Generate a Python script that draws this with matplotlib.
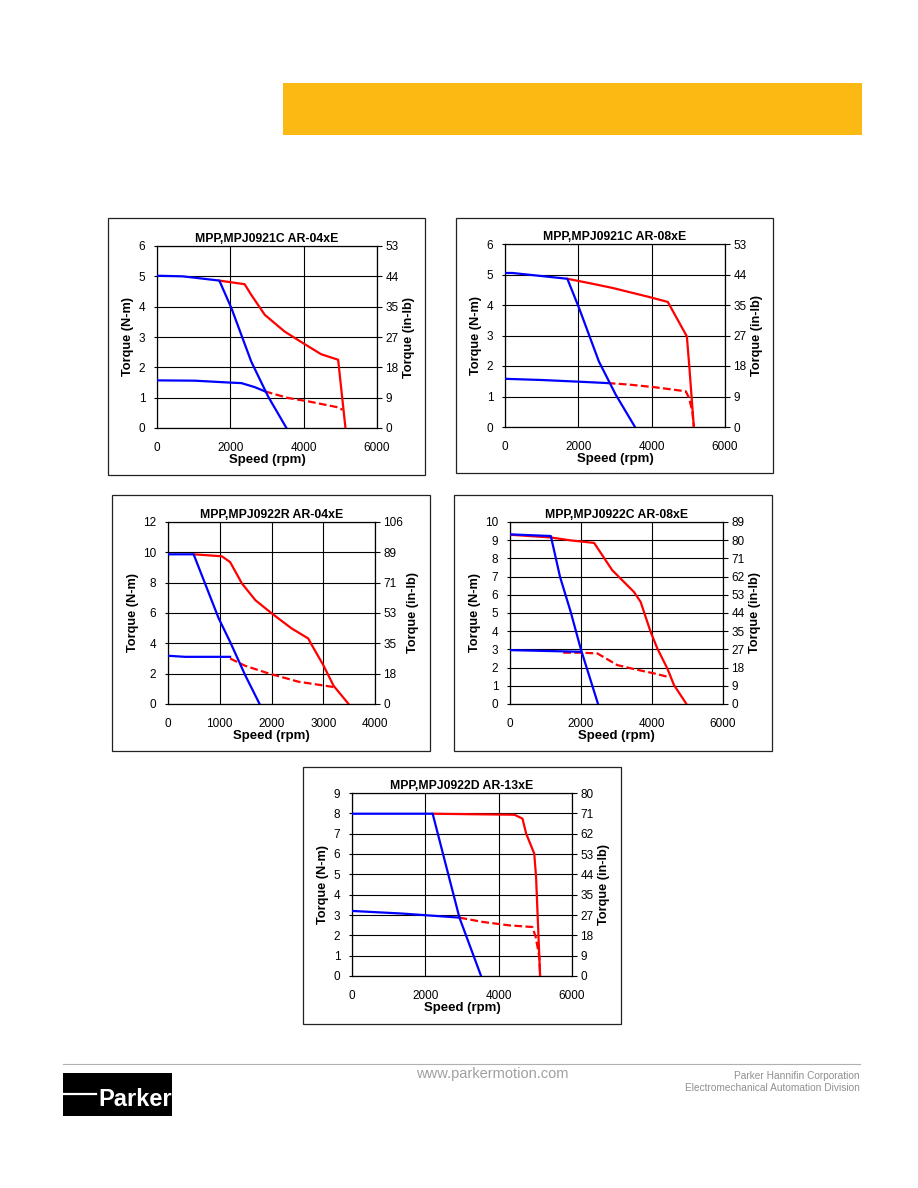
import matplotlib
matplotlib.use("Agg")
import matplotlib.pyplot as plt
from matplotlib.patches import Rectangle

plt.rcParams['font.family'] = ['Liberation Sans', 'DejaVu Sans']

W, H = 918, 1188

# ---- chart 1: MPP,MPJ0921C AR-04xE
c1_title = "MPP,MPJ0921C AR-04xE"
c1_peak_blue_x = [0, 700, 1700, 2030, 2570, 3030, 3530]
c1_peak_blue_y = [5.02, 5.0, 4.86, 3.95, 2.19, 1.04, 0]
c1_peak_red_x = [1700, 2390, 2570, 2940, 3480, 3940, 4480, 4940, 5140]
c1_peak_red_y = [4.86, 4.74, 4.39, 3.73, 3.18, 2.83, 2.43, 2.25, 0]
c1_cont_blue_x = [0, 1030, 1940, 2300, 2660, 2940]
c1_cont_blue_y = [1.57, 1.56, 1.50, 1.48, 1.35, 1.21]
c1_cont_red_x = [2940, 3570, 4120, 4940, 5060]
c1_cont_red_y = [1.21, 0.99, 0.88, 0.68, 0.60]
c1_left_ticks = [0, 1, 2, 3, 4, 5, 6]
c1_right_labels = ["0", "9", "18", "27", "35", "44", "53"]
c1_x_ticks = [0, 2000, 4000, 6000]

# ---- chart 2: MPP,MPJ0921C AR-08xE
c2_title = "MPP,MPJ0921C AR-08xE"
c2_peak_blue_x = [0, 200, 1700, 2020, 2560, 3020, 3545]
c2_peak_blue_y = [5.05, 5.05, 4.86, 3.90, 2.15, 1.06, 0]
c2_peak_red_x = [1700, 2290, 2930, 3940, 4440, 4960, 5030, 5150]
c2_peak_red_y = [4.86, 4.72, 4.56, 4.26, 4.10, 2.97, 1.93, 0]
c2_cont_blue_x = [0, 1020, 2110, 2800]
c2_cont_blue_y = [1.58, 1.54, 1.48, 1.44]
c2_cont_red_x = [2800, 3390, 4110, 4930, 5020, 5110, 5150]
c2_cont_red_y = [1.44, 1.39, 1.30, 1.17, 0.95, 0.51, 0]
c2_left_ticks = [0, 1, 2, 3, 4, 5, 6]
c2_right_labels = ["0", "9", "18", "27", "35", "44", "53"]
c2_x_ticks = [0, 2000, 4000, 6000]

# ---- chart 3: MPP,MPJ0922R AR-04xE
c3_title = "MPP,MPJ0922R AR-04xE"
c3_peak_blue_x = [0, 495, 980, 1200, 1490, 1770]
c3_peak_blue_y = [9.87, 9.87, 5.64, 4.10, 1.91, 0]
c3_peak_red_x = [495, 1040, 1200, 1430, 1690, 2010, 2390, 2710, 2780, 3000, 3200, 3490]
c3_peak_red_y = [9.87, 9.74, 9.36, 7.94, 6.84, 5.96, 4.98, 4.32, 3.88, 2.57, 1.20, 0]
c3_cont_blue_x = [0, 330, 1200]
c3_cont_blue_y = [3.18, 3.11, 3.11]
c3_cont_red_x = [1200, 1490, 1940, 2520, 3160, 3260]
c3_cont_red_y = [3.00, 2.52, 2.02, 1.47, 1.14, 1.07]
c3_left_ticks = [0, 2, 4, 6, 8, 10, 12]
c3_right_labels = ["0", "18", "35", "53", "71", "89", "106"]
c3_x_ticks = [0, 1000, 2000, 3000, 4000]

# ---- chart 4: MPP,MPJ0922C AR-08xE
c4_title = "MPP,MPJ0922C AR-08xE"
c4_peak_blue_x = [0, 1150, 1410, 1710, 1990, 2480]
c4_peak_blue_y = [9.32, 9.23, 6.98, 5.06, 3.05, 0]
c4_peak_red_x = [0, 1150, 1710, 2370, 2880, 3490, 3680, 3960, 4150, 4430, 4620, 4970]
c4_peak_red_y = [9.30, 9.15, 8.99, 8.85, 7.35, 6.16, 5.61, 3.97, 3.05, 1.96, 1.04, 0]
c4_cont_blue_x = [0, 1990]
c4_cont_blue_y = [2.96, 2.87]
c4_cont_red_x = [1500, 1990, 2460, 3020, 3490, 4060, 4430, 4530]
c4_cont_red_y = [2.82, 2.82, 2.78, 2.14, 1.92, 1.68, 1.50, 1.60]
c4_left_ticks = [0, 1, 2, 3, 4, 5, 6, 7, 8, 9, 10]
c4_right_labels = ["0", "9", "18", "27", "35", "44", "53", "62", "71", "80", "89"]
c4_x_ticks = [0, 2000, 4000, 6000]

# ---- chart 5: MPP,MPJ0922D AR-13xE
c5_title = "MPP,MPJ0922D AR-13xE"
c5_peak_blue_x = [0, 2200, 2930, 3520]
c5_peak_blue_y = [7.98, 7.98, 2.87, 0]
c5_peak_red_x = [2200, 4430, 4650, 4750, 4970, 5020, 5130]
c5_peak_red_y = [7.98, 7.93, 7.74, 7.00, 6.02, 4.87, 0]
c5_cont_blue_x = [0, 1380, 2470, 2930]
c5_cont_blue_y = [3.20, 3.07, 2.93, 2.87]
c5_cont_red_x = [2930, 3560, 4290, 4920, 5010, 5110, 5130]
c5_cont_red_y = [2.87, 2.66, 2.49, 2.41, 1.92, 0.93, 0]
c5_left_ticks = [0, 1, 2, 3, 4, 5, 6, 7, 8, 9]
c5_right_labels = ["0", "9", "18", "27", "35", "44", "53", "62", "71", "80"]
c5_x_ticks = [0, 2000, 4000, 6000]


def px_rect(x0, y0, x1, y1):
    return [x0 / W, 1 - y1 / H, (x1 - x0) / W, (y1 - y0) / H]


fig = plt.figure(figsize=(W / 100, H / 100), dpi=100)
fig.patch.set_facecolor('white')

# yellow banner
fig.patches.append(Rectangle((283 / W, 1 - 135 / H), (862 - 283) / W, (135 - 83) / H,
                             transform=fig.transFigure, facecolor='#FDB913', edgecolor='none'))


def draw_chart(box, plot, title, xt, lt, rl, pbx, pby, prx, pry, cbx, cby, crx, cry):
    # frame round the whole chart, kept behind the axes
    fig.patches.append(Rectangle((box[0] / W, 1 - box[3] / H), (box[2] - box[0]) / W,
                                 (box[3] - box[1]) / H, transform=fig.transFigure,
                                 facecolor='none', edgecolor='#222222', linewidth=0.9, zorder=-1))
    ax = fig.add_axes(px_rect(*plot))
    ax.plot(prx, pry, color='#FF0000', lw=1.6, zorder=3)
    ax.plot(crx, cry, color='#FF0000', lw=1.6, ls=(0, (3.5, 1.5)), zorder=3)
    ax.plot(pbx, pby, color='#0000FF', lw=1.6, zorder=4)
    ax.plot(cbx, cby, color='#0000FF', lw=1.6, zorder=4)
    ax.set_xlim(xt[0], xt[-1])
    ax.set_ylim(lt[0], lt[-1])
    ax.set_xticks(xt)
    ax.set_yticks(lt)
    ax.grid(True, color='black', lw=0.8)
    ax.set_axisbelow(True)
    for s in ax.spines.values():
        s.set_color('black')
        s.set_linewidth(0.9)
    ax.tick_params(axis='x', labelsize=8.5, length=0, pad=10)
    ax.tick_params(axis='y', labelsize=8.5, length=2.5, width=0.8, pad=6)
    ax.set_title(title, fontsize=8.8, fontweight='bold', pad=3)
    ax.set_xlabel('Speed (rpm)', fontsize=9.5, fontweight='bold', labelpad=0)
    ax.set_ylabel('Torque (N-m)', fontsize=9.2, fontweight='bold', labelpad=3)
    ax2 = ax.twinx()
    ax2.set_ylim(lt[0], lt[-1])
    ax2.set_yticks(lt)
    ax2.set_yticklabels(rl)
    ax2.tick_params(labelsize=8.5, length=3.5, width=0.8, pad=2.5)
    ax2.set_ylabel('Torque (in-lb)', fontsize=9.2, fontweight='bold', labelpad=3)
    for s in ax2.spines.values():
        s.set_visible(False)


draw_chart((108, 218, 425, 475), (157, 246, 377, 428), c1_title, c1_x_ticks, c1_left_ticks,
           c1_right_labels, c1_peak_blue_x, c1_peak_blue_y, c1_peak_red_x, c1_peak_red_y,
           c1_cont_blue_x, c1_cont_blue_y, c1_cont_red_x, c1_cont_red_y)
draw_chart((456, 218, 773, 473), (505, 244, 725, 427), c2_title, c2_x_ticks, c2_left_ticks,
           c2_right_labels, c2_peak_blue_x, c2_peak_blue_y, c2_peak_red_x, c2_peak_red_y,
           c2_cont_blue_x, c2_cont_blue_y, c2_cont_red_x, c2_cont_red_y)
draw_chart((112, 495, 430, 751), (168, 522, 375, 704), c3_title, c3_x_ticks, c3_left_ticks,
           c3_right_labels, c3_peak_blue_x, c3_peak_blue_y, c3_peak_red_x, c3_peak_red_y,
           c3_cont_blue_x, c3_cont_blue_y, c3_cont_red_x, c3_cont_red_y)
draw_chart((454, 495, 772, 751), (510, 522, 723, 704), c4_title, c4_x_ticks, c4_left_ticks,
           c4_right_labels, c4_peak_blue_x, c4_peak_blue_y, c4_peak_red_x, c4_peak_red_y,
           c4_cont_blue_x, c4_cont_blue_y, c4_cont_red_x, c4_cont_red_y)
draw_chart((303, 767, 621, 1024), (352, 793, 572, 976), c5_title, c5_x_ticks, c5_left_ticks,
           c5_right_labels, c5_peak_blue_x, c5_peak_blue_y, c5_peak_red_x, c5_peak_red_y,
           c5_cont_blue_x, c5_cont_blue_y, c5_cont_red_x, c5_cont_red_y)

# footer
fig.add_artist(plt.Line2D([63 / W, 860 / W], [1 - 1064 / H, 1 - 1064 / H],
                          transform=fig.transFigure, color='#b0b0b0', lw=0.8))
fig.patches.append(Rectangle((63 / W, 1 - 1116 / H), (172 - 63) / W, (1116 - 1073) / H,
                             transform=fig.transFigure, facecolor='black', edgecolor='none'))
fig.add_artist(plt.Line2D([63 / W, 96 / W], [1 - 1094 / H, 1 - 1094 / H],
                          transform=fig.transFigure, color='white', lw=1.6))
fig.text(135 / W, 1 - 1099 / H, 'Parker', color='white', fontsize=17, fontweight='bold',
         family=['Liberation Sans Narrow', 'Liberation Sans'], ha='center', va='center')
fig.text(492 / W, 1 - 1074 / H, 'www.parkermotion.com', color='#a0a0a0', fontsize=10.5,
         ha='center', va='center')
fig.text(860 / W, 1 - 1076 / H, 'Parker Hannifin Corporation', color='#909090', fontsize=7.3,
         ha='right', va='center')
fig.text(860 / W, 1 - 1088 / H, 'Electromechanical Automation Division', color='#909090',
         fontsize=7.3, ha='right', va='center')

fig.savefig('out.png', dpi=100)
